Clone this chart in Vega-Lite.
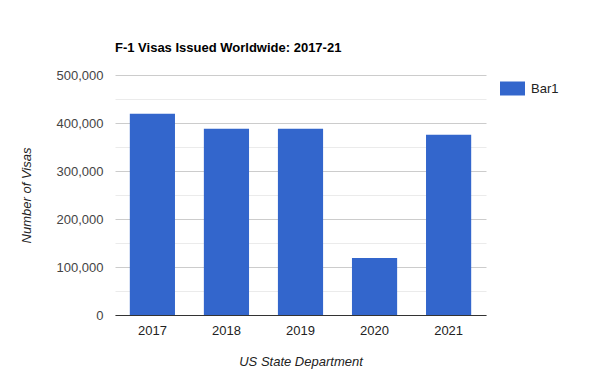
{
  "$schema": "https://vega.github.io/schema/vega-lite/v6.json",
  "autosize": "none",
  "width": 371,
  "height": 240,
  "padding": {"left": 115, "top": 75, "right": 114, "bottom": 75},
  "background": "white",
  "config": {
    "font": "Liberation Sans",
    "view": {"stroke": null}
  },
  "title": {
    "text": "F-1 Visas Issued Worldwide: 2017-21",
    "anchor": "start",
    "frame": "group",
    "fontSize": 13,
    "fontWeight": "bold",
    "color": "#000000",
    "offset": 14
  },
  "data": {
    "values": [
      {"year": "2017", "visas": 419400, "series": "Bar1"},
      {"year": "2018", "visas": 388100, "series": "Bar1"},
      {"year": "2019", "visas": 388100, "series": "Bar1"},
      {"year": "2020", "visas": 118750, "series": "Bar1"},
      {"year": "2021", "visas": 375600, "series": "Bar1"}
    ]
  },
  "mark": {"type": "bar"},
  "encoding": {
    "x": {
      "field": "year",
      "type": "ordinal",
      "scale": {"paddingInner": 0.39, "paddingOuter": 0.2},
      "axis": {
        "title": "US State Department",
        "titleFontStyle": "italic",
        "titleFontWeight": "normal",
        "titleFontSize": 13,
        "titleColor": "#222222",
        "titlePadding": 18,
        "labelAngle": 0,
        "labelFontSize": 13,
        "labelColor": "#222222",
        "labelPadding": 9,
        "ticks": false,
        "domainColor": "#333333",
        "domainWidth": 1
      }
    },
    "y": {
      "field": "visas",
      "type": "quantitative",
      "scale": {"domain": [0, 500000], "nice": false},
      "axis": {
        "title": "Number of Visas",
        "titleFontStyle": "italic",
        "titleFontWeight": "normal",
        "titleFontSize": 13,
        "titleColor": "#222222",
        "titlePadding": 23,
        "values": [0, 50000, 100000, 150000, 200000, 250000, 300000, 350000, 400000, 450000, 500000],
        "labelExpr": "datum.value % 100000 === 0 ? format(datum.value, ',') : ''",
        "labelFontSize": 13,
        "labelColor": "#444444",
        "labelPadding": 12,
        "ticks": false,
        "domain": false,
        "gridColor": {"condition": {"test": "datum.value % 100000 === 0", "value": "#cccccc"}, "value": "#ebebeb"}
      }
    },
    "color": {
      "field": "series",
      "type": "nominal",
      "scale": {"range": ["#3366cc"]},
      "legend": {
        "title": null,
        "orient": "none",
        "legendX": 385,
        "legendY": 1,
        "padding": 0,
        "symbolType": "M-1,-0.56H1V0.56H-1Z",
        "symbolSize": 625,
        "symbolStrokeWidth": 0,
        "symbolOpacity": 1,
        "labelFontSize": 13,
        "labelColor": "#222222",
        "labelOffset": 6
      }
    }
  }
}
